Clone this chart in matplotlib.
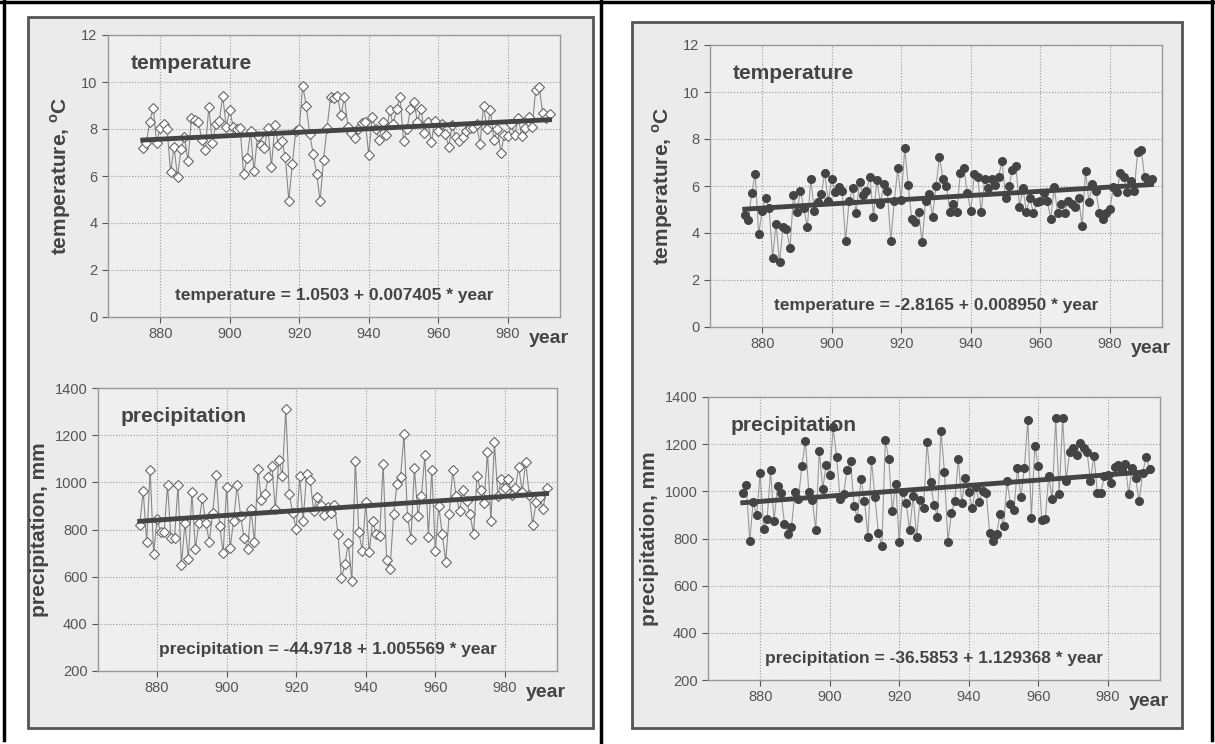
import numpy as np
import matplotlib
matplotlib.use("Agg")
import matplotlib.pyplot as plt
from matplotlib.patches import Rectangle

plt.rcParams['font.family'] = ['Liberation Sans', 'DejaVu Sans']

years = np.arange(875, 993)

# left station
temp_a = [7.2, 7.4, 8.3, 8.9, 7.4, 8.05, 8.2, 8.0, 6.15, 7.25,
          5.95, 7.15, 7.65, 6.65, 8.45, 8.4, 8.3, 7.55, 7.1, 8.95,
          7.4, 8.2, 8.35, 9.4, 8.1, 8.8, 8.1, 8.0, 8.05, 6.1,
          6.75, 7.9, 6.2, 7.7, 7.3, 7.2, 8.05, 6.4, 8.15, 7.3,
          7.5, 6.8, 4.95, 6.5, 7.9, 8.0, 9.85, 9.0, 7.8, 6.95,
          6.1, 4.95, 6.7, 8.05, 9.35, 9.3, 9.4, 8.6, 9.35, 8.1,
          7.85, 7.6, 8.0, 8.25, 8.3, 6.9, 8.5, 8.0, 7.55, 8.3,
          7.75, 8.8, 8.2, 8.85, 9.35, 7.5, 8.0, 8.85, 9.15, 8.3,
          8.85, 7.85, 8.3, 7.45, 8.35, 7.9, 8.2, 7.8, 7.25, 8.15,
          7.65, 7.5, 7.65, 7.9, 8.05, 8.05, 8.2, 7.35, 9.0, 8.0,
          8.8, 7.55, 8.0, 7.0, 7.75, 7.7, 8.2, 7.75, 8.45, 7.7,
          8.05, 8.5, 8.1, 9.65, 9.8, 8.7, 8.45, 8.65]
prec_a = [820, 963, 748, 1053, 698, 845, 790, 789, 987, 762,
          765, 987, 650, 828, 674, 957, 718, 828, 933, 828,
          749, 872, 1029, 813, 702, 980, 721, 838, 987, 859,
          762, 716, 885, 749, 1058, 923, 951, 1022, 1070, 886,
          1094, 1028, 1309, 951, 869, 803, 1025, 838, 1036, 1011,
          880, 937, 902, 862, 896, 872, 905, 782, 593, 653,
          742, 581, 1090, 790, 708, 917, 705, 838, 779, 773,
          1079, 671, 634, 865, 994, 1022, 1203, 855, 760, 1060,
          859, 943, 1115, 770, 1053, 707, 900, 779, 664, 865,
          1053, 940, 879, 966, 919, 865, 780, 1025, 966, 912,
          1127, 838, 1169, 943, 1016, 974, 1014, 948, 974, 1065,
          960, 1087, 948, 821, 917, 939, 889, 977]
fit_temp_a = (1.0503, 0.007405)
fit_prec_a = (-44.9718, 1.005569)

# right station
temp_b = [4.75, 4.55, 5.7, 6.5, 3.95, 4.95, 5.5, 5.05, 2.95, 4.4,
          2.75, 4.25, 4.15, 3.35, 5.6, 4.9, 5.8, 5.05, 4.25, 6.3,
          4.95, 5.3, 5.65, 6.55, 5.35, 6.3, 5.75, 5.95, 5.8, 3.65,
          5.35, 5.9, 4.85, 6.15, 5.6, 5.8, 6.4, 4.7, 6.25, 5.25,
          6.1, 5.8, 3.65, 5.35, 6.75, 5.4, 7.6, 6.05, 4.6, 4.45,
          4.9, 3.6, 5.35, 5.65, 4.7, 6.0, 7.25, 6.3, 6.0, 4.9,
          5.25, 4.9, 6.55, 6.75, 5.7, 4.95, 6.5, 6.4, 4.9, 6.3,
          5.9, 6.3, 6.05, 6.4, 7.05, 5.5, 6.0, 6.7, 6.85, 5.1,
          5.9, 4.9, 5.5, 4.85, 5.3, 5.35, 5.7, 5.35, 4.6, 5.95,
          4.85, 5.25, 4.85, 5.35, 5.25, 5.1, 5.5, 4.3, 6.65, 5.3,
          6.1, 5.8, 4.85, 4.6, 4.85, 5.0, 5.95, 5.75, 6.55, 6.4,
          5.75, 6.2, 5.8, 7.45, 7.55, 6.4, 6.15, 6.3]
prec_b = [995, 1028, 791, 954, 900, 1077, 842, 883, 1089, 874,
          1024, 992, 862, 821, 847, 998, 966, 1108, 1215, 997,
          964, 837, 1172, 1011, 1113, 1069, 1271, 1144, 967, 990,
          1089, 1130, 936, 888, 1052, 961, 808, 1133, 978, 823,
          767, 1217, 1135, 916, 1033, 786, 998, 950, 835, 981,
          806, 964, 930, 1209, 1039, 943, 893, 1257, 1084, 787,
          907, 961, 1137, 949, 1057, 998, 929, 1018, 956, 1002,
          995, 825, 789, 818, 905, 854, 1042, 946, 920, 1101,
          975, 1101, 1304, 885, 1193, 1106, 879, 882, 1067, 967,
          1309, 988, 1309, 1045, 1165, 1183, 1155, 1205, 1185, 1168,
          1045, 1151, 992, 992, 1066, 1069, 1035, 1104, 1113, 1091,
          1115, 987, 1101, 1057, 957, 1077, 1145, 1096]
fit_temp_b = (-2.8165, 0.008950)
fit_prec_b = (-36.5853, 1.129368)

W, H = 1215, 744
fig = plt.figure(figsize=(W / 100, H / 100), dpi=100)
fig.patch.set_facecolor('white')

# background axis for the scanned page boxes and frame lines
bg = fig.add_axes([0, 0, 1, 1], zorder=0)
bg.set_xlim(0, W)
bg.set_ylim(H, 0)
bg.axis('off')
for x0, y0, x1, y1 in [(28, 17, 593, 728), (632, 22, 1182, 728)]:
    bg.add_patch(Rectangle((x0, y0), x1 - x0, y1 - y0, facecolor='#ebebeb',
                           edgecolor='#555555', linewidth=2))
for xs, ys in [([4, 4], [0, 740]), ([0, W], [2, 2]), ([601, 601], [0, 744]),
               ([1212, 1212], [0, 740])]:
    bg.plot(xs, ys, color='black', linewidth=2.5)

panels = [
    # (rect in px: left, top, right, bottom), values, fit, kind, marker, xlim
    ((108, 35, 560, 317), temp_a, fit_temp_a, 'temperature', 'open', (865, 995)),
    ((98, 388, 557, 671), prec_a, fit_prec_a, 'precipitation', 'open', (863, 995)),
    ((710, 45, 1162, 327), temp_b, fit_temp_b, 'temperature', 'filled', (865, 995)),
    ((708, 397, 1160, 680), prec_b, fit_prec_b, 'precipitation', 'filled', (865, 995)),
]

for (l, t, r, b), vals, fit, kind, mstyle, xlim in panels:
    ax = fig.add_axes([l / W, 1 - b / H, (r - l) / W, (b - t) / H], zorder=2)
    ax.set_facecolor('#efefef')
    if mstyle == 'open':
        ax.plot(years, vals, color='#888888', linewidth=0.8, marker='D', markersize=5,
                markerfacecolor='white', markeredgecolor='#666666', markeredgewidth=0.8, zorder=3)
    else:
        ax.plot(years, vals, color='#999999', linewidth=0.8, marker='o', markersize=5.5,
                markerfacecolor='#444444', markeredgecolor='#444444', zorder=3)
    ax.plot(years, fit[0] + fit[1] * years, color='#444444', linewidth=3.5, zorder=4)

    ax.set_xlim(*xlim)
    ax.set_xticks(np.arange(880, 981, 20))
    if kind == 'temperature':
        ax.set_ylim(0, 12)
        ax.set_yticks(np.arange(0, 13, 2))
        ax.set_ylabel(r'temperature, $^{\mathregular{o}}$C', fontsize=15, fontweight='bold',
                      color='#444444', labelpad=6)
        eq = 'temperature = %.4f + %.6f * year' % fit
    else:
        ax.set_ylim(200, 1400)
        ax.set_yticks(np.arange(200, 1401, 200))
        ax.set_ylabel('precipitation, mm', fontsize=15, fontweight='bold',
                      color='#444444', labelpad=4)
        eq = 'precipitation = %.4f + %.6f * year' % fit

    ax.grid(True, linestyle=':', color='#999999', linewidth=0.8)
    for s in ax.spines.values():
        s.set_color('#999999')
        s.set_linewidth(1)
    ax.tick_params(colors='#555555', labelsize=10.5, length=4, width=0.8)

    ax.text(0.05, 0.9, kind, transform=ax.transAxes, fontsize=15, fontweight='bold',
            color='#444444', ha='left', va='center')
    ax.text(0.5, 0.075, eq, transform=ax.transAxes, fontsize=12.5, fontweight='bold',
            color='#444444', ha='center', va='center')
    ax.text(1.02, -0.075, 'year', transform=ax.transAxes, fontsize=14, fontweight='bold',
            color='#444444', ha='right', va='center')

fig.savefig('out.png', dpi=100, facecolor='white')
